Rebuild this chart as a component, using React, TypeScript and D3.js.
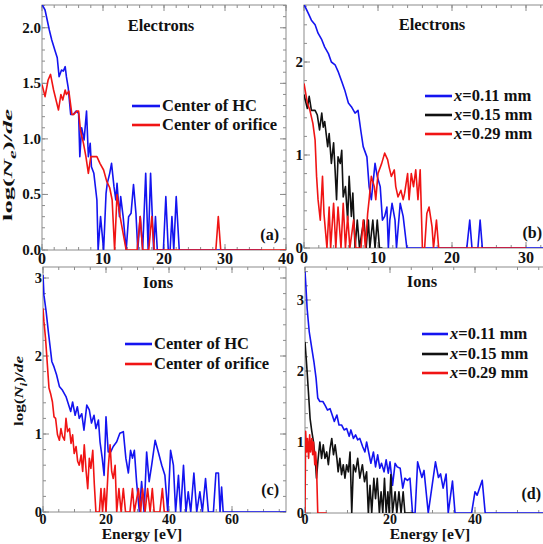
import React from 'react';
import * as d3 from 'd3';

type Pt = [number, number];

const FONT = '"Liberation Serif", "Times New Roman", Times, serif';
const BLUE = '#1414f0';
const RED = '#f01414';
const BLACK = '#111111';
const FRAME = '#8c8c8c';
const SVG_W = 543;

// ---- Electrons, panel (a): energy [eV], log(Ne)/de ----
const eHC: Pt[] = [
  [0, 2.21], [0.5, 2.16], [1.2, 1.98], [1.6, 1.89], [2.1, 1.8], [2.5, 1.73], [2.8, 1.56], [3.2, 1.62],
  [3.5, 1.61], [3.8, 1.65], [4.0, 1.56], [4.3, 1.46], [4.7, 1.22], [5.1, 1.22], [5.6, 1.25], [6.0, 1.23],
  [6.2, 0.84], [6.5, 1.1], [6.9, 0.99], [7.3, 1.25], [7.6, 0.84], [7.9, 0.96], [8.1, 0.75], [8.5, 0.69],
  [9.0, 0.45], [9.2, 0], [9.6, 0.3], [10.1, 0], [10.5, 0.51], [10.7, 0.6], [11.1, 0.69], [11.4, 0.78],
  [11.8, 0.57], [12.1, 0.45], [12.3, 0.6], [12.7, 0.3], [12.9, 0.48], [13.3, 0.3], [13.8, 0], [14.2, 0.3],
  [14.6, 0.33], [15.0, 0.59], [15.4, 0.33], [15.7, 0], [16.1, 0.3], [16.5, 0], [17.0, 0.69], [17.4, 0],
  [17.8, 0.69], [18.3, 0], [18.6, 0.3], [18.9, 0], [19.9, 0], [20.3, 0.48], [20.7, 0], [21.0, 0],
  [21.3, 0.3], [21.6, 0], [22.0, 0.48], [22.5, 0], [36, 0],
];
const eOrifice: Pt[] = [
  [0, 1.49], [0.5, 1.38], [1.0, 1.53], [1.4, 1.58], [1.9, 1.44], [2.3, 1.35], [2.7, 1.26], [3.1, 1.4],
  [3.4, 1.35], [3.8, 1.44], [4.0, 1.4], [4.4, 1.43], [4.9, 1.22], [5.2, 1.22], [5.7, 1.25], [6.0, 1.25],
  [6.3, 1.08], [6.8, 0.96], [7.2, 0.84], [7.6, 0.69], [8.0, 0.84], [8.4, 0.84], [9.0, 0.84], [9.5, 0.78],
  [10.1, 0.72], [10.6, 0.62], [11.1, 0.56], [11.5, 0.45], [11.9, 0], [12.3, 0.5], [12.8, 0.3], [13.3, 0.15],
  [13.8, 0], [15.6, 0], [16.1, 0.3], [16.5, 0], [17.5, 0], [18.0, 0.3], [18.4, 0], [28.5, 0], [28.9, 0.3],
  [29.3, 0], [40, 0],
];

// ---- Electrons, panel (b) ----
const eX011: Pt[] = [
  [0, 2.62], [0.6, 2.52], [1.0, 2.45], [1.5, 2.4], [1.9, 2.31], [2.4, 2.24], [2.8, 2.16], [3.3, 2.09],
  [3.7, 2.0], [4.2, 1.97], [4.6, 1.9], [5.1, 1.79], [5.5, 1.7], [6.0, 1.56], [6.4, 1.52], [6.9, 1.45],
  [7.3, 1.48], [7.7, 1.25], [8.0, 1.09], [8.5, 0.98], [8.8, 0.66], [9.1, 0.52], [9.6, 0.91], [9.9, 0.77],
  [10.3, 0.66], [10.6, 0.3], [10.9, 0.34], [11.2, 0.44], [11.4, 0], [11.6, 0.3], [11.9, 0.48], [12.3, 0.3],
  [12.5, 0], [13.0, 0.48], [13.4, 0.34], [13.9, 0], [22.0, 0], [22.4, 0.3], [22.7, 0], [23.5, 0],
  [23.8, 0.3], [24.1, 0], [35, 0],
];
const eX015: Pt[] = [
  [0, 1.65], [0.45, 1.5], [0.7, 1.63], [1.0, 1.48], [1.5, 1.48], [1.8, 1.43], [2.1, 1.27], [2.4, 1.45],
  [2.6, 1.3], [2.8, 1.36], [3.2, 1.09], [3.4, 1.23], [3.7, 0.91], [4.0, 1.13], [4.2, 0.84], [4.4, 0.52],
  [4.6, 0.98], [4.9, 0.91], [5.1, 1.05], [5.3, 0.55], [5.6, 0.66], [5.9, 0.3], [6.1, 0.77], [6.4, 0.34],
  [6.6, 0.59], [6.9, 0], [7.2, 0.3], [7.5, 0], [7.8, 0.16], [8.1, 0.3], [8.4, 0], [8.7, 0.3], [8.9, 0],
  [9.3, 0.3], [9.6, 0], [9.9, 0.3], [10.2, 0], [10.6, 0],
];
const eX029: Pt[] = [
  [0, 1.77], [0.45, 1.56], [0.8, 1.48], [1.2, 1.34], [1.5, 1.16], [1.7, 0.77], [1.9, 0.52], [2.2, 0.3],
  [2.5, 0.77], [2.7, 0.37], [3.1, 0], [3.4, 0.44], [3.6, 0], [4.0, 0.48], [4.3, 0], [4.6, 0.44], [5.0, 0],
  [5.3, 0.48], [5.6, 0], [5.9, 0.34], [6.2, 0], [6.7, 0.3], [7.0, 0], [7.7, 0], [8.0, 0.3], [8.3, 0],
  [8.6, 0.37], [8.8, 0.52], [9.1, 0.77], [9.5, 0.66], [9.7, 0.52], [10.0, 0.8], [10.5, 0.91], [10.9, 1.02],
  [11.3, 0.95], [11.5, 0.87], [11.8, 0.77], [12.2, 0.84], [12.4, 0.66], [12.7, 0.55], [13.1, 0.62],
  [13.4, 0.52], [13.6, 0.59], [14.0, 0.8], [14.2, 0.52], [14.5, 0.8], [14.8, 0.66], [15.1, 0.84],
  [15.4, 0.52], [15.7, 0.84], [16.0, 0], [16.3, 0], [16.6, 0.37], [16.9, 0.44], [17.3, 0.23], [17.5, 0],
  [17.9, 0.3], [18.2, 0], [30, 0],
];

// ---- Ions, panel (c): log(Ni)/de ----
const iHC: Pt[] = [
  [0, 3.04], [0.3, 2.78], [1.0, 2.57], [1.7, 2.31], [2.2, 2.14], [2.8, 1.93], [3.5, 1.86], [4.3, 1.76],
  [5.2, 1.61], [6.2, 1.56], [7.3, 1.48], [8.0, 1.39], [8.8, 1.29], [9.4, 1.41], [10.2, 1.24], [10.9, 1.35],
  [11.5, 1.2], [12.3, 1.26], [13.0, 1.05], [13.9, 1.37], [14.7, 1.31], [15.4, 1.14], [16.2, 1.24],
  [16.8, 1.07], [17.6, 1.18], [18.1, 0.9], [18.8, 0.69], [19.4, 0.47], [20.0, 1.22], [20.7, 0.77],
  [21.5, 0.77], [22.3, 0.84], [23.4, 0.9], [24.4, 1.01], [25.5, 1.03], [26.3, 0.69], [27.1, 0.5],
  [27.8, 0.79], [28.4, 0.69], [29.0, 0.79], [29.7, 0.39], [30.6, 0], [31.3, 0.39], [32.1, 0], [32.9, 0.77],
  [33.7, 0.39], [34.5, 0.6], [35.6, 0.92], [36.6, 0.77], [37.7, 0.6], [38.7, 0.47], [39.6, 0], [40.5, 0.79],
  [41.4, 0.6], [42.1, 0], [43.0, 0.47], [43.7, 0], [44.6, 0.6], [45.4, 0], [46.1, 0.26], [46.9, 0],
  [47.9, 0.5], [48.8, 0], [49.8, 0.26], [50.6, 0], [51.6, 0.43], [52.5, 0], [54.1, 0], [54.9, 0.5],
  [55.7, 0.5], [56.2, 0], [56.7, 0.32], [57.2, 0], [78, 0],
];
const iOrifice: Pt[] = [
  [0, 2.61], [0.3, 2.44], [0.8, 2.23], [1.4, 1.88], [1.9, 1.59], [2.4, 1.52], [3.0, 1.41], [3.5, 1.22],
  [4.0, 1.2], [4.6, 0.99], [5.2, 0.92], [5.7, 1.07], [6.2, 0.97], [6.8, 0.92], [7.3, 1.2], [7.8, 1.03],
  [8.4, 1.07], [8.9, 0.88], [9.4, 0.99], [9.9, 0.75], [10.5, 0.84], [11.0, 0.65], [11.5, 0.6], [12.1, 0.73],
  [12.6, 0.52], [13.1, 0.86], [13.7, 0.52], [14.2, 0.3], [14.7, 0.69], [15.2, 0.56], [15.8, 0.79],
  [16.3, 0.35], [16.8, 0], [17.9, 0], [18.4, 0.3], [18.9, 0], [19.5, 0.3], [20.0, 0], [20.7, 0.56],
  [21.3, 0.86], [21.8, 0.52], [22.3, 0.43], [22.9, 0.6], [23.4, 0], [24.1, 0.3], [24.8, 0], [25.5, 0.3],
  [26.2, 0], [27.6, 0], [28.4, 0.3], [29.0, 0], [30.3, 0.3], [31.0, 0], [31.6, 0.3], [32.4, 0],
  [33.2, 0.3], [34.0, 0], [34.7, 0.3], [35.3, 0], [37.1, 0], [37.9, 0.3], [38.5, 0], [40, 0],
];

// ---- Ions, panel (d) ----
const iX011: Pt[] = [
  [0, 3.4], [0.2, 3.21], [0.5, 2.88], [1.0, 2.55], [1.6, 2.32], [2.1, 2.13], [2.6, 1.9], [3.0, 1.62],
  [3.5, 1.57], [4.2, 1.57], [4.7, 1.52], [5.3, 1.45], [5.9, 1.47], [6.4, 1.38], [6.9, 1.29], [7.5, 1.38],
  [8.0, 1.24], [8.6, 1.24], [9.2, 1.17], [9.8, 1.19], [10.4, 1.08], [10.8, 1.17], [11.4, 1.05],
  [11.9, 1.1], [12.4, 1.03], [12.9, 1.05], [13.6, 0.93], [14.1, 0.86], [14.5, 1.0], [15.1, 0.82],
  [15.5, 0.7], [16.1, 0.86], [16.6, 0.65], [17.1, 0.82], [17.6, 0.63], [18.0, 0.7], [18.6, 0.58],
  [19.1, 0.75], [19.6, 0.56], [20.0, 0.72], [20.6, 0.39], [21.2, 0.7], [21.7, 0.65], [22.4, 0.63],
  [23.0, 0.35], [23.5, 0.49], [24.1, 0.46], [24.7, 0.49], [25.3, 0], [25.9, 0], [26.5, 0.72], [27.5, 0.5],
  [28.0, 0.6], [29.0, 0], [30.7, 0.72], [31.4, 0.5], [31.9, 0.55], [32.5, 0.35], [33.2, 0.55], [33.7, 0],
  [34.7, 0.45], [35.3, 0], [39.2, 0], [40.0, 0.3], [40.5, 0.25], [41.7, 0.46], [42.4, 0], [60, 0],
];
const iX015: Pt[] = [
  [0, 2.41], [0.4, 2.08], [0.8, 1.71], [1.2, 1.33], [1.6, 1.15], [2.0, 1.0], [2.4, 0.77], [2.7, 0.49],
  [3.1, 0.77], [3.5, 1.0], [3.9, 0.77], [4.3, 0.96], [4.7, 0.77], [5.1, 0.86], [5.5, 0.68], [5.9, 0.91],
  [6.3, 1.05], [6.7, 0.82], [7.1, 0.96], [7.5, 0.77], [7.8, 0.58], [8.2, 0.77], [8.6, 0.54], [9.0, 0.68],
  [9.4, 0.49], [9.8, 0.68], [10.2, 0.58], [10.6, 0.86], [11.0, 0], [11.4, 0.68], [11.9, 0.58], [12.4, 0.77],
  [12.9, 0.49], [13.5, 0.68], [14.0, 0.44], [14.5, 0.58], [14.9, 0], [15.3, 0.39], [15.7, 0], [16.2, 0.49],
  [16.6, 0.2], [17.0, 0.49], [17.5, 0], [17.9, 0.3], [18.3, 0], [18.7, 0.49], [19.1, 0], [19.5, 0.3],
  [19.8, 0], [20.2, 0.54], [20.6, 0], [21.2, 0.3], [21.6, 0], [22.1, 0.3], [22.6, 0], [23.1, 0.3],
  [23.5, 0], [25.5, 0],
];
const iX029: Pt[] = [
  [0, 0], [0.15, 1.15], [0.4, 0.86], [0.6, 1.05], [0.85, 0.77], [1.1, 1.1], [1.3, 0.86], [1.6, 1.05],
  [1.8, 0.82], [2.0, 1.0], [2.3, 0.68], [2.5, 0.86], [2.7, 0.68], [3.0, 0], [5.1, 0],
];

// ---- Legend and axis text ----
const hcLabels = ['Center of HC', 'Center of orifice'];
const xLabels = ['0.11', '0.15', '0.29'];

interface Box { l: number; t: number; r: number; b: number }
interface Series { data: Pt[]; color: string }
interface LegendRow { color: string; content: React.ReactNode }

interface PanelProps {
  id: string;
  box: Box;
  xDomain: [number, number];
  yDomain: [number, number];
  xMajor: number;
  xMinor: number;
  yMajor: number;
  yMinor: number;
  yFmt: (v: number) => string;
  xFont: number;
  yFont: number;
  xLabelDy: number;
  series: Series[];
  title: string;
  titlePos: [number, number];
  legend: LegendRow[];
  legendLine: [number, number];
  legendY: number[];
  legendFont: number;
  tag: string;
  tagPos: [number, number];
}

const steps = (max: number, step: number) =>
  d3.range(0, max + 1e-9, step).map((v) => Math.round(v * 1000) / 1000);

function Panel(p: PanelProps) {
  const { box } = p;
  const x = d3.scaleLinear().domain(p.xDomain).range([box.l, box.r]);
  const y = d3.scaleLinear().domain(p.yDomain).range([box.b, box.t]);
  const line = d3
    .line<Pt>()
    .x((d) => x(d[0]))
    .y((d) => y(d[1]));

  const xMaj = steps(p.xDomain[1], p.xMajor);
  const xMin = steps(p.xDomain[1], p.xMinor);
  const yMaj = steps(p.yDomain[1], p.yMajor);
  const yMin = steps(p.yDomain[1], p.yMinor);
  // only label ticks that fall inside the drawing
  const xLab = xMaj.filter((v) => x(v) <= SVG_W - 6);

  const tick = { stroke: FRAME, strokeWidth: 1 };

  return (
    <g>
      <defs>
        <clipPath id={`clip-${p.id}`}>
          <rect x={box.l} y={box.t} width={box.r - box.l} height={box.b - box.t} />
        </clipPath>
      </defs>

      {/* inward ticks on all four sides */}
      {xMin.map((v) => (
        <g key={`xm${v}`}>
          <line x1={x(v)} x2={x(v)} y1={box.b} y2={box.b - 3} {...tick} />
          <line x1={x(v)} x2={x(v)} y1={box.t} y2={box.t + 3} {...tick} />
        </g>
      ))}
      {xMaj.map((v) => (
        <g key={`xM${v}`}>
          <line x1={x(v)} x2={x(v)} y1={box.b} y2={box.b - 6} {...tick} />
          <line x1={x(v)} x2={x(v)} y1={box.t} y2={box.t + 6} {...tick} />
        </g>
      ))}
      {yMin.map((v) => (
        <g key={`ym${v}`}>
          <line x1={box.l} x2={box.l + 3} y1={y(v)} y2={y(v)} {...tick} />
          <line x1={box.r} x2={box.r - 3} y1={y(v)} y2={y(v)} {...tick} />
        </g>
      ))}
      {yMaj.map((v) => (
        <g key={`yM${v}`}>
          <line x1={box.l} x2={box.l + 6} y1={y(v)} y2={y(v)} {...tick} />
          <line x1={box.r} x2={box.r - 6} y1={y(v)} y2={y(v)} {...tick} />
        </g>
      ))}
      <rect
        x={box.l}
        y={box.t}
        width={box.r - box.l}
        height={box.b - box.t}
        fill="none"
        stroke={FRAME}
        strokeWidth={1}
      />

      {/* data */}
      <g clipPath={`url(#clip-${p.id})`}>
        {p.series.map((s, i) => (
          <path
            key={i}
            d={line(s.data) || ''}
            fill="none"
            stroke={s.color}
            strokeWidth={1.6}
            strokeLinejoin="round"
          />
        ))}
      </g>

      {/* tick labels */}
      {xLab.map((v) => (
        <text
          key={`xl${v}`}
          x={x(v)}
          y={box.b + p.xLabelDy}
          textAnchor="middle"
          fontFamily={FONT}
          fontWeight="bold"
          fontSize={p.xFont}
          fill="#111"
        >
          {v}
        </text>
      ))}
      {yMaj.map((v) => (
        <text
          key={`yl${v}`}
          x={box.l - 1}
          y={y(v)}
          textAnchor="end"
          dominantBaseline="central"
          fontFamily={FONT}
          fontWeight="bold"
          fontSize={p.yFont}
          fill="#111"
        >
          {p.yFmt(v)}
        </text>
      ))}

      {/* title */}
      <text
        x={p.titlePos[0]}
        y={p.titlePos[1]}
        textAnchor="middle"
        fontFamily={FONT}
        fontWeight="bold"
        fontSize={16.5}
        fill="#111"
      >
        {p.title}
      </text>

      {/* legend */}
      {p.legend.map((row, i) => (
        <g key={`lg${i}`}>
          <line
            x1={p.legendLine[0]}
            x2={p.legendLine[1]}
            y1={p.legendY[i]}
            y2={p.legendY[i]}
            stroke={row.color}
            strokeWidth={2.6}
          />
          <text
            x={p.legendLine[1] + 2}
            y={p.legendY[i] + 5}
            fontFamily={FONT}
            fontWeight="bold"
            fontSize={p.legendFont}
            fill="#111"
          >
            {row.content}
          </text>
        </g>
      ))}

      {/* panel tag */}
      <text
        x={p.tagPos[0]}
        y={p.tagPos[1]}
        textAnchor="end"
        fontFamily={FONT}
        fontWeight="bold"
        fontSize={16}
        fill="#111"
      >
        {p.tag}
      </text>
    </g>
  );
}

const xRow = (label: string) => (
  <>
    <tspan fontStyle="italic">x</tspan>
    {`=${label} mm`}
  </>
);

export default function App() {
  const fmt1 = (v: number) => v.toFixed(1);
  const fmt0 = (v: number) => String(v);

  return (
    <svg
      width={543}
      height={544}
      viewBox="0 0 543 544"
      style={{ position: 'absolute', left: 0, top: 0, display: 'block', background: '#fff' }}
    >
      <rect x={0} y={0} width={543} height={544} fill="#fff" />

      <Panel
        id="a"
        box={{ l: 42, t: 5, r: 286, b: 250 }}
        xDomain={[0, 40]}
        yDomain={[0, 2.205]}
        xMajor={10}
        xMinor={2}
        yMajor={0.5}
        yMinor={0.1}
        yFmt={fmt1}
        xFont={16}
        yFont={15}
        xLabelDy={14}
        series={[
          { data: eHC, color: BLUE },
          { data: eOrifice, color: RED },
        ]}
        title="Electrons"
        titlePos={[161, 31]}
        legend={[
          { color: BLUE, content: hcLabels[0] },
          { color: RED, content: hcLabels[1] },
        ]}
        legendLine={[132, 160]}
        legendY={[106, 125]}
        legendFont={16.5}
        tag="(a)"
        tagPos={[279, 240]}
      />

      <Panel
        id="b"
        box={{ l: 304, t: 5, r: 560, b: 248 }}
        xDomain={[0, 256 / 7.4]}
        yDomain={[0, 243 / 93]}
        xMajor={10}
        xMinor={2}
        yMajor={1}
        yMinor={0.2}
        yFmt={fmt0}
        xFont={16}
        yFont={15}
        xLabelDy={15}
        series={[
          { data: eX011, color: BLUE },
          { data: eX015, color: BLACK },
          { data: eX029, color: RED },
        ]}
        title="Electrons"
        titlePos={[432, 30]}
        legend={[
          { color: BLUE, content: xRow(xLabels[0]) },
          { color: BLACK, content: xRow(xLabels[1]) },
          { color: RED, content: xRow(xLabels[2]) },
        ]}
        legendLine={[425, 452]}
        legendY={[96, 115, 134]}
        legendFont={16.5}
        tag="(b)"
        tagPos={[542, 238]}
      />

      <Panel
        id="c"
        box={{ l: 43, t: 267, r: 286, b: 512 }}
        xDomain={[0, 243 / 3.15]}
        yDomain={[0, 245 / 78]}
        xMajor={20}
        xMinor={5}
        yMajor={1}
        yMinor={0.2}
        yFmt={fmt0}
        xFont={14}
        yFont={14.5}
        xLabelDy={11.5}
        series={[
          { data: iHC, color: BLUE },
          { data: iOrifice, color: RED },
        ]}
        title="Ions"
        titlePos={[158, 288]}
        legend={[
          { color: BLUE, content: hcLabels[0] },
          { color: RED, content: hcLabels[1] },
        ]}
        legendLine={[125, 152]}
        legendY={[344, 364]}
        legendFont={16.5}
        tag="(c)"
        tagPos={[279, 495]}
      />

      <Panel
        id="d"
        box={{ l: 305, t: 267, r: 560, b: 513 }}
        xDomain={[0, 255 / 4.25]}
        yDomain={[0, 246 / 71]}
        xMajor={20}
        xMinor={5}
        yMajor={1}
        yMinor={0.2}
        yFmt={fmt0}
        xFont={14}
        yFont={14.5}
        xLabelDy={10.5}
        series={[
          { data: iX011, color: BLUE },
          { data: iX015, color: BLACK },
          { data: iX029, color: RED },
        ]}
        title="Ions"
        titlePos={[422, 287]}
        legend={[
          { color: BLUE, content: xRow(xLabels[0]) },
          { color: BLACK, content: xRow(xLabels[1]) },
          { color: RED, content: xRow(xLabels[2]) },
        ]}
        legendLine={[422, 448]}
        legendY={[334, 354, 373]}
        legendFont={16.5}
        tag="(d)"
        tagPos={[541, 499]}
      />

      {/* axis titles */}
      <text
        transform="translate(12,165) rotate(-90)"
        textAnchor="middle"
        fontFamily={FONT}
        fontWeight="bold"
        fontSize={13.5}
        textLength={112}
        lengthAdjust="spacingAndGlyphs"
        fill="#111"
      >
        log(<tspan fontStyle="italic">N</tspan>
        <tspan dy={3.5} fontSize={10} fontStyle="italic">e</tspan>
        <tspan dy={-3.5}>)/</tspan>
        <tspan fontStyle="italic">de</tspan>
      </text>
      <text
        transform="translate(23,391) rotate(-90)"
        textAnchor="middle"
        fontFamily={FONT}
        fontWeight="bold"
        fontSize={13.5}
        textLength={70}
        lengthAdjust="spacingAndGlyphs"
        fill="#111"
      >
        log(<tspan fontStyle="italic">N</tspan>
        <tspan dy={3.5} fontSize={10} fontStyle="italic">i</tspan>
        <tspan dy={-3.5}>)/</tspan>
        <tspan fontStyle="italic">de</tspan>
      </text>
      <text
        x={142}
        y={539}
        textAnchor="middle"
        fontFamily={FONT}
        fontWeight="bold"
        fontSize={15.5}
        fill="#111"
      >
        Energy [eV]
      </text>
      <text
        x={430}
        y={539}
        textAnchor="middle"
        fontFamily={FONT}
        fontWeight="bold"
        fontSize={15.5}
        fill="#111"
      >
        Energy [eV]
      </text>
    </svg>
  );
}
